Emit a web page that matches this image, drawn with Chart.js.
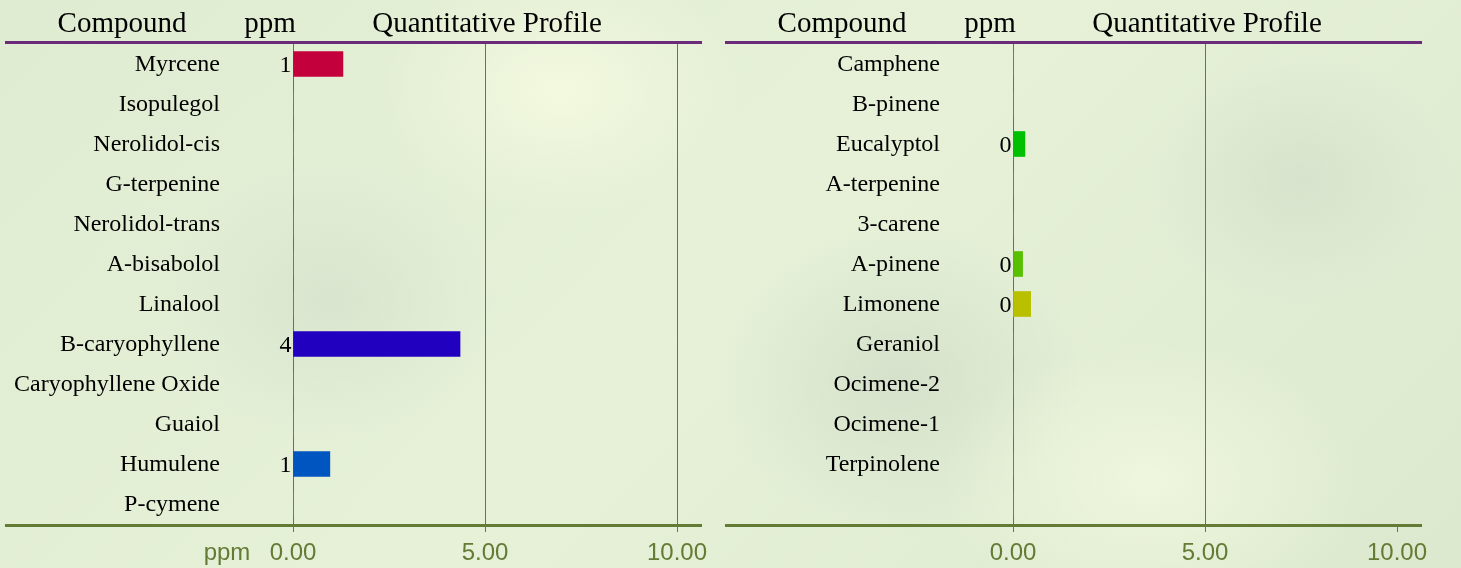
<!DOCTYPE html>
<html>
<head>
<meta charset="utf-8">
<style>
  html, body { margin: 0; padding: 0; }
  body {
    width: 1461px; height: 568px; overflow: hidden; position: relative;
    background:
      radial-gradient(ellipse 260px 180px at 560px 90px, rgba(244,250,224,0.9), rgba(244,250,224,0) 70%),
      radial-gradient(ellipse 300px 200px at 1150px 480px, rgba(240,248,222,0.9), rgba(240,248,222,0) 70%),
      radial-gradient(ellipse 260px 220px at 900px 380px, rgba(210,222,200,0.8), rgba(210,222,200,0) 70%),
      radial-gradient(ellipse 240px 200px at 330px 300px, rgba(214,226,204,0.8), rgba(214,226,204,0) 70%),
      radial-gradient(ellipse 220px 180px at 1300px 180px, rgba(212,224,202,0.8), rgba(212,224,202,0) 70%),
      linear-gradient(135deg, #e0ecd2 0%, #e6f1d8 50%, #dde9cf 100%);
  }
  canvas { position: absolute; top: 0; }
  #left { left: 0; }
  #right { left: 720px; }
</style>
</head>
<body>
<canvas id="left" width="720" height="568"></canvas>
<canvas id="right" width="741" height="568"></canvas>

<script src="https://cdn.jsdelivr.net/npm/chart.js"></script>
<script>
  const leftCompounds = ["Myrcene", "Isopulegol", "Nerolidol-cis", "G-terpenine", "Nerolidol-trans",
    "A-bisabolol", "Linalool", "B-caryophyllene", "Caryophyllene Oxide", "Guaiol", "Humulene", "P-cymene"];
  const leftValues = [1.30, 0, 0, 0, 0, 0, 0, 4.35, 0, 0, 0.96, 0];
  const leftColors = ["#c4003c", "#888", "#888", "#888", "#888", "#888", "#888", "#2200c0", "#888", "#888", "#0055c0", "#888"];

  const rightCompounds = ["Camphene", "B-pinene", "Eucalyptol", "A-terpenine", "3-carene", "A-pinene",
    "Limonene", "Geraniol", "Ocimene-2", "Ocimene-1", "Terpinolene", ""];
  const rightValues = [0, 0, 0.31, 0, 0, 0.25, 0.46, 0, 0, 0, 0, 0];
  const rightColors = ["#888", "#888", "#00c000", "#888", "#888", "#58c000", "#b8c000", "#888", "#888", "#888", "#888", "#888"];

  const xTicks = [0, 5, 10];

  const olive = "#637b34";
  const serif = "'Liberation Serif', 'Times New Roman', serif";
  const narrow = "'Liberation Sans Narrow', 'Arial Narrow', sans-serif";

  // header, thick lines, value labels
  const decor = {
    id: "decor",
    afterDraw(chart, args, opts) {
      const ctx = chart.ctx;
      const area = chart.chartArea;
      ctx.save();
      ctx.fillStyle = "#000";
      ctx.font = "29px " + serif;
      ctx.textAlign = "center";
      ctx.textBaseline = "alphabetic";
      ctx.fillText("Compound", 122, 32);
      ctx.fillText("ppm", 270, 32);
      ctx.fillText("Quantitative Profile", 487, 32);

      ctx.fillStyle = "#6b2a7a";
      ctx.fillRect(5, 41, 697, 3);

      ctx.fillStyle = olive;
      ctx.fillRect(5, area.bottom, 697, 3);

      if (opts.ppm) {
        ctx.font = "24px " + narrow;
        ctx.textBaseline = "middle";
        ctx.fillText("ppm", 227, 553);
      }

      const meta = chart.getDatasetMeta(0);
      ctx.fillStyle = "#000";
      ctx.font = "24px " + serif;
      ctx.textAlign = "right";
      ctx.textBaseline = "middle";
      meta.data.forEach((bar, i) => {
        const v = chart.data.datasets[0].data[i];
        if (v > 0) ctx.fillText(Math.round(v), bar.base - 2, bar.y + 2);
      });
      ctx.restore();
    }
  };

  function makeChart(id, labels, values, colors, showPpm, hideLastGrid) {
    const canvas = document.getElementById(id);
    new Chart(canvas, {
      type: "bar",
      data: {
        labels,
        datasets: [{
          data: values,
          backgroundColor: colors,
          barThickness: 25,
        }]
      },
      options: {
        indexAxis: "y",
        responsive: false,
        animation: false,
        layout: { padding: { top: 44, right: canvas.width - 677, left: 0, bottom: 0 } },
        plugins: {
          legend: { display: false },
          tooltip: { enabled: false },
          decor: { ppm: showPpm },
        },
        scales: {
          y: {
            grid: { display: false, drawTicks: false },
            border: { display: false },
            ticks: { color: "#000", font: { family: serif, size: 24 }, padding: 73, labelOffset: 1 },
            afterFit: s => { s.width = 293; s.paddingTop = 0; s.paddingBottom = 0; },
          },
          x: {
            min: 0,
            max: 10,
            afterBuildTicks: s => { s.ticks = xTicks.map(v => ({ value: v })); },
            border: { display: false },
            grid: {
              color: c => (hideLastGrid && c.tick && c.tick.value === 10) ? "rgba(0,0,0,0)" : olive,
              tickColor: olive,
              lineWidth: 1,
              tickLength: 8,
            },
            ticks: {
              color: olive,
              font: { family: narrow, size: 24 },
              padding: 7,
              callback: v => Number(v).toFixed(2),
            },
            afterFit: s => { s.height = 44; s.paddingLeft = 0; s.paddingRight = 0; },
          }
        }
      },
      plugins: [decor],
    });
  }

  makeChart("left", leftCompounds, leftValues, leftColors, true, false);
  makeChart("right", rightCompounds, rightValues, rightColors, false, true);
</script>
</body>
</html>
